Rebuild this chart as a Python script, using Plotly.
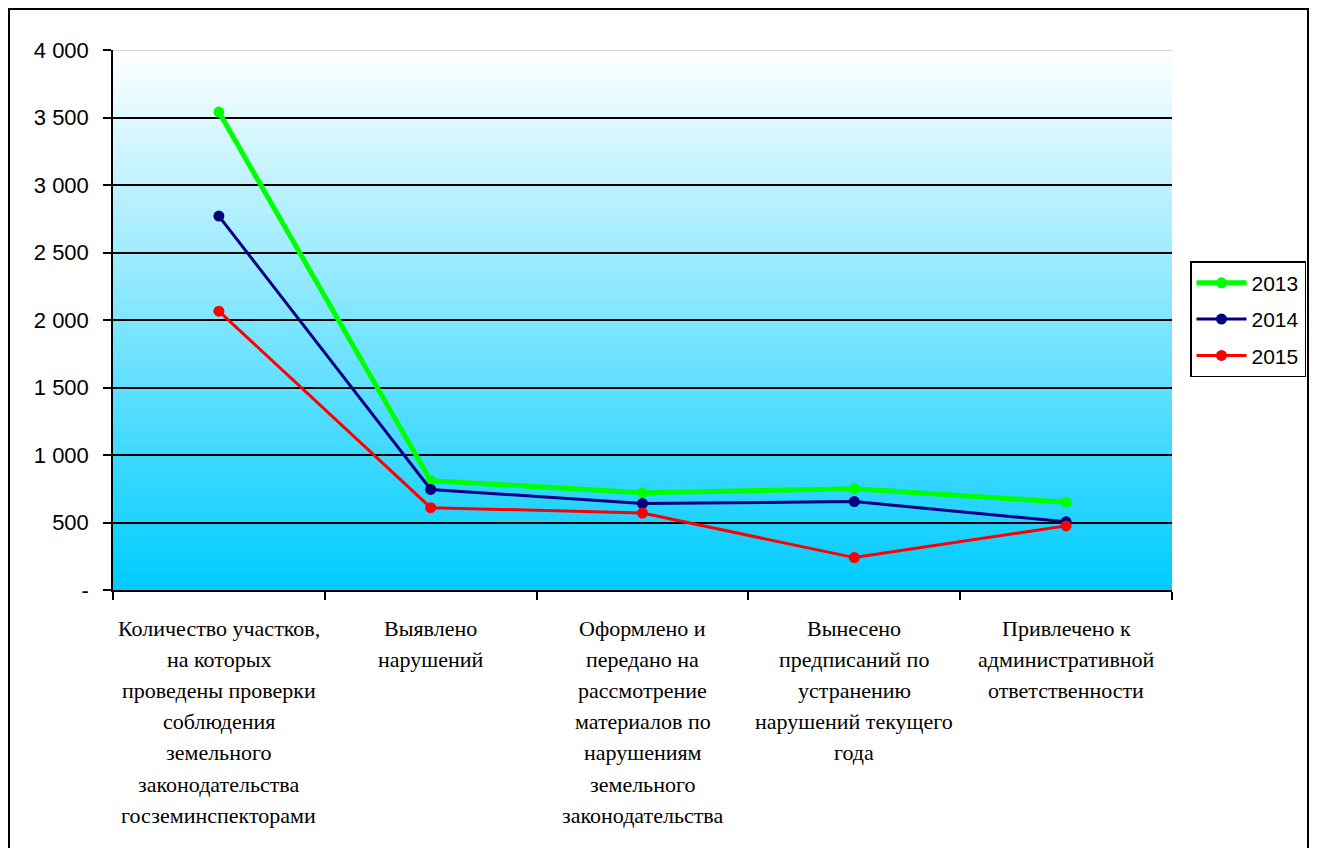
import base64
import struct
import zlib

import plotly.graph_objects as go

# Category labels (one list of lines per category)
category_lines = [
    ["Количество участков,", "на которых", "проведены проверки", "соблюдения",
     "земельного", "законодательства", "госземинспекторами"],
    ["Выявлено", "нарушений"],
    ["Оформлено и", "передано на", "рассмотрение", "материалов по",
     "нарушениям", "земельного", "законодательства"],
    ["Вынесено", "предписаний по", "устранению", "нарушений текущего", "года"],
    ["Привлечено к", "административной", "ответственности"],
]
categories = [" ".join(lines) for lines in category_lines]

years = ["2013", "2014", "2015"]
values_2013 = [3540, 810, 720, 750, 650]
values_2014 = [2770, 745, 640, 655, 505]
values_2015 = [2065, 610, 570, 240, 475]

y_tick_values = [0, 500, 1000, 1500, 2000, 2500, 3000, 3500, 4000]
y_tick_text = ["-", "500", "1 000", "1 500", "2 000", "2 500", "3 000", "3 500", "4 000"]

series = [
    (years[0], values_2013, "#00FF00", 5),
    (years[1], values_2014, "#000080", 3),
    (years[2], values_2015, "#FF0000", 3),
]


def gradient_png(top, bottom, height=256):
    """Build a 1-pixel-wide vertical gradient PNG as a data URI."""
    raw = b""
    for i in range(height):
        t = i / (height - 1)
        px = bytes(int(round(top[c] + (bottom[c] - top[c]) * t)) for c in range(3))
        raw += b"\x00" + px

    def chunk(tag, data):
        body = tag + data
        return struct.pack(">I", len(data)) + body + struct.pack(">I", zlib.crc32(body) & 0xFFFFFFFF)

    png = b"\x89PNG\r\n\x1a\n"
    png += chunk(b"IHDR", struct.pack(">IIBBBBB", 1, height, 8, 2, 0, 0, 0))
    png += chunk(b"IDAT", zlib.compress(raw, 9))
    png += chunk(b"IEND", b"")
    return "data:image/png;base64," + base64.b64encode(png).decode()


fig = go.Figure()

for i, (name, vals, color, width) in enumerate(series):
    fig.add_trace(go.Scatter(
        x=categories, y=vals, name=name, mode="lines+markers",
        line=dict(color=color, width=width),
        marker=dict(color=color, size=11),
        legendgroup=name,
    ))

# Multi-line category labels under the axis
annotations = []
for cat, lines in zip(categories, category_lines):
    for j, line in enumerate(lines):
        annotations.append(dict(
            x=cat, xref="x", y=0, yref="paper",
            text=line, showarrow=False,
            xanchor="center", yanchor="middle",
            yshift=-(38 + 31.2 * j),
            font=dict(family="Liberation Serif, Times New Roman, serif", size=22, color="black"),
        ))

fig.update_layout(
    width=1318, height=848,
    margin=dict(l=113, r=146, t=50, b=258),
    paper_bgcolor="white",
    plot_bgcolor="rgba(0,0,0,0)",
    font=dict(family="Liberation Sans, Arial, sans-serif", size=22, color="black"),
    showlegend=True,
    legend=dict(
        x=1.017, y=0.609, xanchor="left", yanchor="top",
        bgcolor="white", bordercolor="black", borderwidth=1.5,
        font=dict(size=21), tracegroupgap=6, itemwidth=50,
    ),
    annotations=annotations,
    images=[dict(
        source=gradient_png((255, 255, 255), (0, 204, 255)),
        xref="paper", yref="paper", x=0, y=1, sizex=1, sizey=1,
        xanchor="left", yanchor="top", sizing="stretch", layer="below",
    )],
    shapes=[
        # light top border of the plot area
        dict(type="line", xref="paper", yref="y", x0=0, x1=1, y0=4000, y1=4000,
             line=dict(color="#D9D9D9", width=2), layer="between"),
        # outer chart frame
        dict(type="rect", xref="paper", yref="paper",
             x0=(9 - 113) / 1059, x1=(1308 - 113) / 1059,
             y0=(590 - 860) / 540, y1=(590 - 9) / 540,
             line=dict(color="black", width=2), fillcolor="rgba(0,0,0,0)", layer="above"),
    ],
)

fig.update_xaxes(
    type="category", categoryorder="array", categoryarray=categories,
    range=[-0.5, 4.5], showticklabels=False,
    tickson="boundaries", ticks="outside", ticklen=8, tickcolor="black", tickwidth=1.5,
    showline=True, linecolor="black", linewidth=1.5,
    showgrid=False, zeroline=False,
)
fig.update_yaxes(
    range=[0, 4000], tickvals=y_tick_values, ticktext=y_tick_text,
    ticks="outside", ticklen=8, tickcolor="black", tickwidth=1.5,
    showline=True, linecolor="black", linewidth=1.5,
    showgrid=True, gridcolor="black", gridwidth=1.5,
    zeroline=False, ticklabelstandoff=10,
)

fig.write_html("out.html")
